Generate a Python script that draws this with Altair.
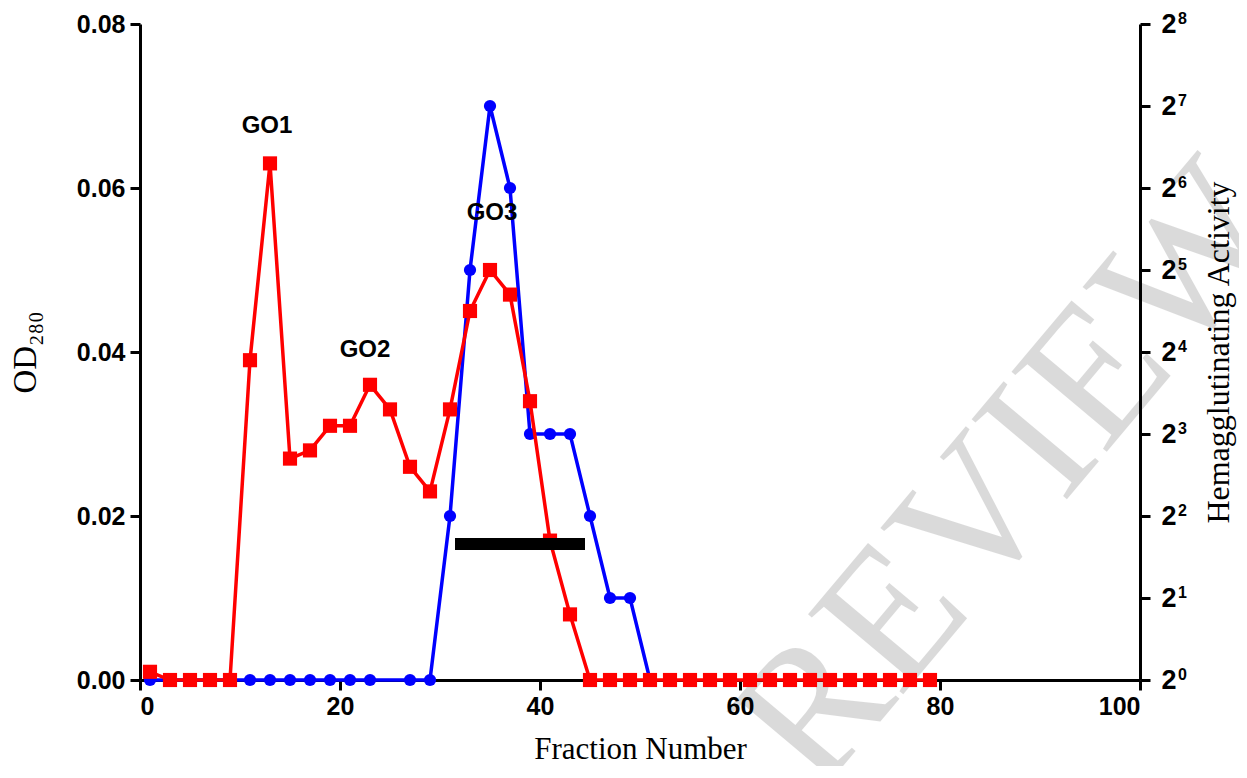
import altair as alt
import pandas as pd

# --- data ---
od_fraction = [1, 3, 5, 7, 9, 11, 13, 15, 17, 19, 21, 23, 25, 27, 29, 31, 33, 35, 37, 39,
               41, 43, 45, 47, 49, 51, 53, 55, 57, 59, 61, 63, 65, 67, 69, 71, 73, 75, 77, 79]
od280 = [0.001, 0.0, 0.0, 0.0, 0.0, 0.039, 0.063, 0.027, 0.028, 0.031, 0.031, 0.036, 0.033,
         0.026, 0.023, 0.033, 0.045, 0.050, 0.047, 0.034, 0.017, 0.008, 0.0, 0.0, 0.0, 0.0,
         0.0, 0.0, 0.0, 0.0, 0.0, 0.0, 0.0, 0.0, 0.0, 0.0, 0.0, 0.0, 0.0, 0.0]

ha_fraction = [1, 3, 5, 7, 9, 11, 13, 15, 17, 19, 21, 23, 27, 29, 31, 33, 35, 37, 39, 41,
               43, 45, 47, 49, 51]
ha_log2 = [0, 0, 0, 0, 0, 0, 0, 0, 0, 0, 0, 0, 0, 0, 2, 5, 7, 6, 3, 3, 3, 2, 1, 1, 0]

peak_labels = ["GO1", "GO2", "GO3"]
peak_x = [12.7, 22.5, 35.2]
peak_y = [0.0676, 0.0402, 0.0569]

pool_start = [31.5]
pool_end = [44.5]
pool_level = [0.0166]

x_ticks = [0, 20, 40, 60, 80, 100]
od_ticks = [0.0, 0.02, 0.04, 0.06, 0.08]
ha_ticks = [0, 1, 2, 3, 4, 5, 6, 7, 8]
ha_exponents = ["0", "1", "2", "3", "4", "5", "6", "7", "8"]

od_df = pd.DataFrame({"fraction": od_fraction, "od": od280})
ha_df = pd.DataFrame({"fraction": ha_fraction, "ha": ha_log2})
lab_df = pd.DataFrame({"label": peak_labels, "fraction": peak_x, "od": peak_y})
bar_df = pd.DataFrame({"x1": pool_start, "x2": pool_end, "od": pool_level})
exp_df = pd.DataFrame({"tick": ha_ticks, "exp": ha_exponents})

xscale = alt.Scale(domain=[0, 100], nice=False, zero=False)
x_axis = alt.Axis(values=x_ticks, format="d", title="Fraction Number",
                  labelPadding=4, titlePadding=15, titleFontSize=31)

# watermark: translucent black so black text underneath stays black
watermark = alt.Chart(pd.DataFrame({"t": ["REVIEW"]})).mark_text(
    font="Liberation Serif", fontSize=190, color="black", opacity=0.14, angle=310,
    align="center", baseline="middle"
).encode(text="t:N", x=alt.value(872), y=alt.value(452))

ha_scale = alt.Scale(domain=[0, 8], nice=False, zero=True)
blue_line = alt.Chart(ha_df).mark_line(color="#0000ff", strokeWidth=3.5).encode(
    x=alt.X("fraction:Q", scale=xscale, axis=x_axis),
    y=alt.Y("ha:Q", scale=ha_scale,
            axis=alt.Axis(orient="right", values=ha_ticks, labelExpr="'2'",
                          labelFontSize=27,
                          title="Hemagglutinating Activity", titleAngle=270,
                          titleBaseline="top", titleFontSize=32,
                          labelPadding=11, titlePadding=27)),
)
blue_pts = alt.Chart(ha_df).mark_point(shape="circle", filled=True, opacity=1,
                                        color="#0000ff", size=150).encode(
    x=alt.X("fraction:Q", scale=xscale), y=alt.Y("ha:Q", scale=ha_scale)
)
exponents = alt.Chart(exp_df).mark_text(
    font="Liberation Sans", fontWeight="bold", fontSize=16, color="black",
    align="left", baseline="middle", dy=-5
).encode(x=alt.value(1038), y=alt.Y("tick:Q", scale=ha_scale), text="exp:N")
blue = alt.layer(blue_line, blue_pts, exponents)

od_scale = alt.Scale(domain=[0, 0.08], nice=False, zero=True)
od_axis = alt.Axis(orient="left", values=od_ticks, format=".2f", title="OD₂₈₀",
                   labelPadding=5, titlePadding=34)
red_line = alt.Chart(od_df).mark_line(color="#ff0000", strokeWidth=3.5).encode(
    x=alt.X("fraction:Q", scale=xscale, axis=x_axis),
    y=alt.Y("od:Q", scale=od_scale, axis=od_axis),
)
red_pts = alt.Chart(od_df).mark_point(shape="square", filled=True, opacity=1,
                                       color="#ff0000", size=200).encode(
    x=alt.X("fraction:Q", scale=xscale), y=alt.Y("od:Q", scale=od_scale)
)
pool_bar = alt.Chart(bar_df).mark_rule(color="black", strokeWidth=12).encode(
    x=alt.X("x1:Q", scale=xscale), x2="x2:Q", y=alt.Y("od:Q", scale=od_scale)
)
labels = alt.Chart(lab_df).mark_text(font="Liberation Sans", fontWeight="bold",
                                      fontSize=24, color="black",
                                      align="center", baseline="middle").encode(
    x=alt.X("fraction:Q", scale=xscale), y=alt.Y("od:Q", scale=od_scale), text="label:N"
)
left = alt.layer(red_line, red_pts, pool_bar, labels)

chart = alt.layer(watermark, blue, left).resolve_scale(y="independent").properties(
    width=1000, height=656,
    autosize=alt.AutoSizeParams(type="none"),
    padding={"left": 132, "top": 16, "right": 99, "bottom": 86},
).configure_view(stroke=None).configure_axis(
    grid=False, domainColor="black", domainWidth=3, tickColor="black", tickWidth=3,
    tickSize=10, labelColor="black", labelFont="Liberation Sans", labelFontWeight="bold",
    labelFontSize=25, titleFont="Liberation Serif", titleFontWeight="normal",
    titleFontSize=33, titleColor="black"
)

chart.save("out.html", embed_options={"renderer": "svg", "actions": False})
